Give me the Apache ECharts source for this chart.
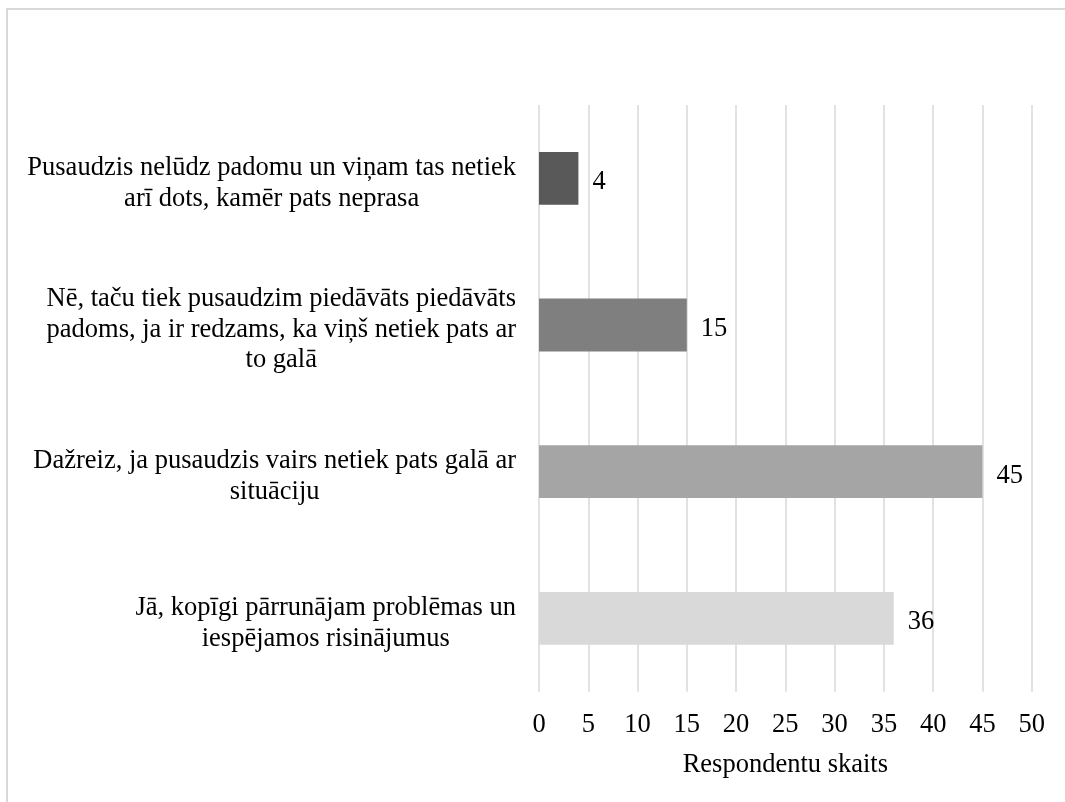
<!DOCTYPE html>
<html>
<head>
<meta charset="utf-8">
<script src="https://cdn.jsdelivr.net/npm/echarts@6/dist/echarts.min.js"></script>
<style>
html,body{margin:0;padding:0;background:#fff;}
#chart{width:1065px;height:802px;}
</style>
</head>
<body>
<div id="chart"></div>
<script>
// Categories listed bottom-to-top (as ECharts draws a category y axis)
const categories = [
  "Jā, kopīgi pārrunājam problēmas un\niespējamos risinājumus",
  "Dažreiz, ja pusaudzis vairs netiek pats galā ar\nsituāciju",
  "Nē, taču tiek pusaudzim piedāvāts piedāvāts\npadoms, ja ir redzams, ka viņš netiek pats ar\nto galā",
  "Pusaudzis nelūdz padomu un viņam tas netiek\narī dots, kamēr pats neprasa"
];
const values = [36, 45, 15, 4];
const barColors = ["#d9d9d9", "#a5a5a5", "#7f7f7f", "#595959"];
const axisTitle = "Respondentu skaits";
const xMin = 0, xMax = 50, xStep = 5;

const FONT = "'Liberation Serif', 'Times New Roman', serif";
const FS = 26.5;

const chart = echarts.init(document.getElementById('chart'), null, {renderer: 'canvas'});
chart.setOption({
  backgroundColor: '#fff',
  animation: false,
  textStyle: {fontFamily: FONT},
  graphic: [{
    type: 'rect',
    silent: true,
    z: -10,
    shape: {x: 7, y: 9, width: 1100, height: 850},
    style: {fill: 'none', stroke: '#d9d9d9', lineWidth: 2}
  }],
  grid: {left: 539, right: 33.3, top: 105, bottom: 110.3, containLabel: false, outerBoundsMode: 'none'},
  xAxis: {
    type: 'value',
    min: xMin, max: xMax, interval: xStep,
    axisLine: {show: false},
    axisTick: {show: false},
    splitLine: {show: true, lineStyle: {color: '#d9d9d9', width: 1.5}},
    axisLabel: {color: '#000', fontFamily: FONT, fontSize: FS, margin: 20},
    name: axisTitle,
    nameLocation: 'middle',
    nameGap: 60,
    nameTextStyle: {color: '#000', fontFamily: FONT, fontSize: FS}
  },
  yAxis: {
    type: 'category',
    data: categories,
    axisLine: {show: false},
    axisTick: {show: false},
    splitLine: {show: false},
    axisLabel: {
      interval: 0,
      margin: 23,
      align: 'right',
      padding: [10, 0, 0, 0],
      formatter: function (v) {
        return v.split('\n').map(function (l) { return '{c|' + l + '}'; }).join('\n');
      },
      rich: {
        c: {align: 'center', color: '#000', fontFamily: FONT, fontSize: FS, lineHeight: 30.5}
      }
    }
  },
  series: [{
    type: 'bar',
    data: values,
    barCategoryGap: '64%',
    itemStyle: {
      color: function (p) { return barColors[p.dataIndex]; }
    },
    label: {
      show: true,
      position: 'right',
      distance: 14,
      offset: [0, 4],
      color: '#000',
      fontFamily: FONT,
      fontSize: FS
    }
  }]
});
</script>
</body>
</html>
